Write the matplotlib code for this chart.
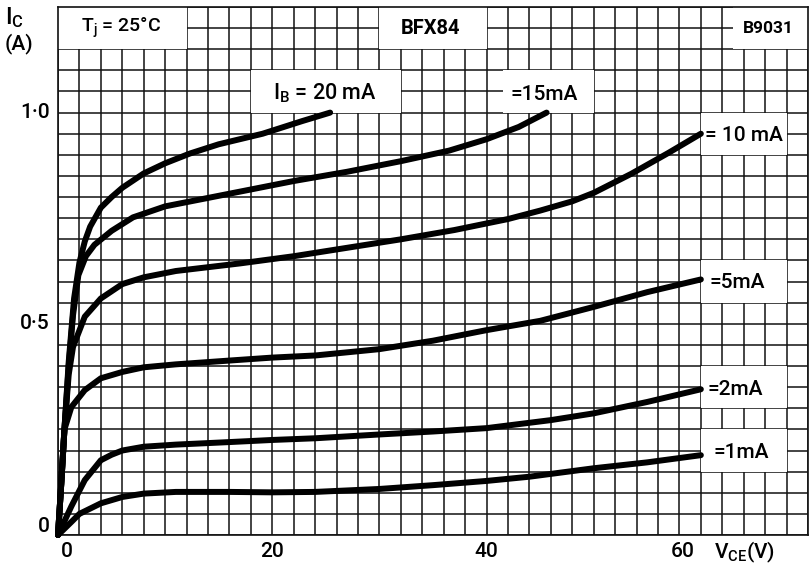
import numpy as np
import matplotlib.pyplot as plt
from matplotlib.patches import Rectangle

plt.rcParams['font.family'] = ['Roboto', 'DejaVu Sans']
plt.rcParams['font.weight'] = 'medium'
plt.rcParams['mathtext.default'] = 'regular'

# I_C (A) vs V_CE (V) curves
v_1mA = [0, 1.25, 2, 4, 6, 8, 11, 16, 20, 24, 30, 35, 40, 44, 50, 55, 60]
i_1mA = [0, 0.031, 0.05, 0.075, 0.09, 0.098, 0.102, 0.102, 0.101, 0.102, 0.109, 0.118, 0.128, 0.138, 0.158, 0.172, 0.189]

v_2mA = [0, 1.25, 2.5, 4, 5, 6, 8, 11, 16, 20, 24, 30, 35, 40, 46, 50, 55, 60]
i_2mA = [0, 0.068, 0.13, 0.177, 0.19, 0.2, 0.209, 0.214, 0.22, 0.225, 0.229, 0.238, 0.245, 0.253, 0.272, 0.288, 0.315, 0.345]

v_5mA = [0, 0.3, 0.6, 1.25, 2.5, 4, 6, 8, 11, 16, 20, 24, 30, 35, 40, 45, 50, 55, 60]
i_5mA = [0, 0.12, 0.25, 0.303, 0.343, 0.371, 0.386, 0.397, 0.404, 0.413, 0.42, 0.425, 0.44, 0.46, 0.485, 0.507, 0.54, 0.575, 0.605]

v_10mA = [0, 0.3, 0.6, 1.0, 1.4, 2.5, 4, 6, 8, 11, 17, 22, 27, 32, 37, 42, 45, 48, 50, 53.5, 57, 60]
i_10mA = [0, 0.12, 0.25, 0.38, 0.445, 0.517, 0.56, 0.594, 0.61, 0.625, 0.643, 0.66, 0.68, 0.7, 0.722, 0.748, 0.768, 0.79, 0.81, 0.855, 0.905, 0.95]

v_15mA = [0, 0.3, 0.6, 1.0, 1.4, 1.9, 2.6, 3.4, 5, 7, 10, 14, 18, 22, 27, 32, 36.5, 40, 43, 45.6]
i_15mA = [0, 0.12, 0.25, 0.40, 0.52, 0.615, 0.66, 0.687, 0.72, 0.752, 0.778, 0.798, 0.818, 0.838, 0.86, 0.885, 0.91, 0.937, 0.966, 1.0]

v_20mA = [0, 0.3, 0.6, 1.0, 1.5, 2.0, 2.5, 3.0, 4, 5, 6, 8, 10, 12.3, 15, 19.1, 22.8, 25.4]
i_20mA = [0, 0.12, 0.25, 0.41, 0.56, 0.645, 0.695, 0.73, 0.775, 0.80, 0.822, 0.856, 0.88, 0.903, 0.925, 0.95, 0.98, 1.0]

curves = [(v_1mA, i_1mA), (v_2mA, i_2mA), (v_5mA, i_5mA),
          (v_10mA, i_10mA), (v_15mA, i_15mA), (v_20mA, i_20mA)]

curve_labels = ['=1mA', '=2mA', '=5mA', '= 10 mA', '=15mA', 'I$_B$ = 20 mA']
# white label boxes (x0, x1, y0, y1) in data units and text centres
label_boxes = [(60, 68, 0.15, 0.25), (60, 68, 0.30, 0.40), (60, 68, 0.55, 0.65),
               (60, 68, 0.90, 1.00), (41.5, 50, 1.00, 1.10), (18, 32, 1.00, 1.10)]
label_pos = [(63.8, 0.196), (63.2, 0.345), (63.4, 0.598),
             (64.0, 0.946), (45.4, 1.042), (24.9, 1.047)]
label_size = [15, 15, 15, 15, 15, 15.5]

header_texts = ['T$_j$ = 25°C', 'BFX84', 'B9031']
header_boxes = [(0, 12, 1.15, 1.25), (30, 40, 1.15, 1.25), (63, 70, 1.15, 1.25)]
header_pos = [(5.9, 1.2), (34.8, 1.2), (66.3, 1.2)]

x_ticks = [0, 20, 40, 60]
x_ticklabels = ['0', '20', '40', '60']
y_ticks = [0, 0.5, 1.0]
y_ticklabels = ['0', '0·5', '1·0']

fig = plt.figure(figsize=(8.1, 5.72), dpi=100)
ax = fig.add_axes([58 / 810, 37 / 572, 750 / 810, 528 / 572])
ax.set_xlim(0, 70)
ax.set_ylim(0, 1.25)

# fine graph-paper grid
ax.set_xticks(np.arange(0, 70.1, 2))
ax.set_yticks(np.arange(0, 1.251, 0.05))
ax.tick_params(length=0, labelbottom=False, labelleft=False)
ax.set_axisbelow(True)
ax.grid(True, color='#111111', linewidth=1.1)
for s in ax.spines.values():
    s.set_linewidth(1.2)
    s.set_color('#111111')

for (x0, x1, y0, y1) in label_boxes + header_boxes:
    ax.add_patch(Rectangle((x0, y0), x1 - x0, y1 - y0, facecolor='white',
                           edgecolor='none', zorder=2))

for v, i in curves:
    ax.plot(v, i, color='black', linewidth=4.3, solid_capstyle='round',
            solid_joinstyle='round', zorder=3, clip_on=False)

for txt, (x, y), fs in zip(curve_labels, label_pos, label_size):
    ax.text(x, y, txt, ha='center', va='center', fontsize=fs, zorder=4)

for txt, (x, y), fs, fw in zip(header_texts, header_pos, [14, 14.5, 12.5],
                               ['medium', 'bold', 'bold']):
    ax.text(x, y, txt, ha='center', va='center', fontsize=fs,
            fontweight=fw, zorder=4)

# axis numbers
x_shift = {0: 0.8, 60: -1.7}
for t, lab in zip(x_ticks, x_ticklabels):
    ax.text(t + x_shift.get(t, 0), -0.04, lab, ha='center', va='center',
            fontsize=15, clip_on=False)
y_shift = {0: 0.02}
for t, lab in zip(y_ticks, y_ticklabels):
    ax.text(-0.8, t + y_shift.get(t, 0), lab, ha='right', va='center',
            fontsize=15, clip_on=False)

ax.text(61.2, -0.04, 'V$_{CE}$(V)', ha='left', va='center', fontsize=15, clip_on=False)
fig.text(5 / 810, 1 - 18 / 572, 'I$_C$', ha='left', va='center', fontsize=17)
fig.text(5 / 810, 1 - 44 / 572, '(A)', ha='left', va='center', fontsize=15)

plt.savefig('out.png', dpi=100)
